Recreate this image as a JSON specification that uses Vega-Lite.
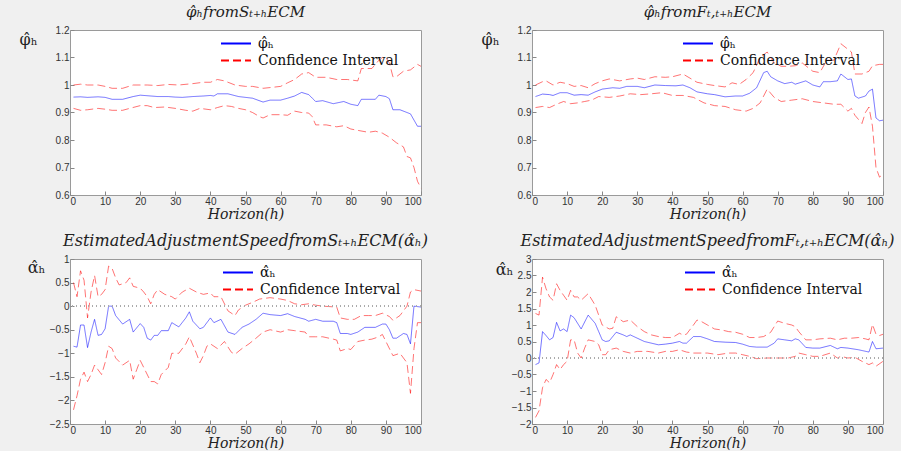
{
"$schema": "https://vega.github.io/schema/vega-lite/v6.json",
"background": "#f0f0f0",
"padding": {"left": 18, "top": 4, "right": 5, "bottom": 0},
"columns": 2,
"spacing": {"row": 64, "column": 111},
"bounds": "flush",
"resolve": {"scale": {"color": "independent", "strokeDash": "independent"}, "legend": {"color": "independent", "strokeDash": "independent"}},
"datasets": {
"p1": [
{"k":"e","h":1,"v":0.956},{"k":"e","h":3,"v":0.957},{"k":"e","h":5,"v":0.955},{"k":"e","h":8,"v":0.957},{"k":"e","h":10,"v":0.955},{"k":"e","h":12,"v":0.948},{"k":"e","h":15,"v":0.948},{"k":"e","h":18,"v":0.958},{"k":"e","h":20,"v":0.963},{"k":"e","h":23,"v":0.96},{"k":"e","h":25,"v":0.958},{"k":"e","h":28,"v":0.958},{"k":"e","h":30,"v":0.956},{"k":"e","h":32,"v":0.955},{"k":"e","h":35,"v":0.958},{"k":"e","h":38,"v":0.96},{"k":"e","h":40,"v":0.962},{"k":"e","h":41,"v":0.96},{"k":"e","h":42,"v":0.968},{"k":"e","h":45,"v":0.968},{"k":"e","h":48,"v":0.958},{"k":"e","h":50,"v":0.955},{"k":"e","h":52,"v":0.952},{"k":"e","h":55,"v":0.938},{"k":"e","h":57,"v":0.945},{"k":"e","h":60,"v":0.945},{"k":"e","h":62,"v":0.952},{"k":"e","h":64,"v":0.96},{"k":"e","h":66,"v":0.973},{"k":"e","h":68,"v":0.965},{"k":"e","h":70,"v":0.94},{"k":"e","h":72,"v":0.943},{"k":"e","h":75,"v":0.932},{"k":"e","h":78,"v":0.94},{"k":"e","h":80,"v":0.93},{"k":"e","h":82,"v":0.925},{"k":"e","h":83,"v":0.948},{"k":"e","h":87,"v":0.948},{"k":"e","h":88,"v":0.963},{"k":"e","h":90,"v":0.958},{"k":"e","h":91,"v":0.95},{"k":"e","h":92,"v":0.91},{"k":"e","h":94,"v":0.91},{"k":"e","h":96,"v":0.9},{"k":"e","h":97,"v":0.895},{"k":"e","h":99,"v":0.85},{"k":"e","h":100,"v":0.85},
{"k":"hi","h":1,"v":1.0},{"k":"hi","h":3,"v":1.003},{"k":"hi","h":5,"v":1.0},{"k":"hi","h":8,"v":1.0},{"k":"hi","h":10,"v":0.995},{"k":"hi","h":12,"v":0.988},{"k":"hi","h":15,"v":0.988},{"k":"hi","h":18,"v":1.0},{"k":"hi","h":20,"v":1.0},{"k":"hi","h":22,"v":1.0},{"k":"hi","h":25,"v":0.998},{"k":"hi","h":28,"v":1.002},{"k":"hi","h":31,"v":1.0},{"k":"hi","h":35,"v":1.005},{"k":"hi","h":38,"v":1.01},{"k":"hi","h":40,"v":1.01},{"k":"hi","h":42,"v":1.02},{"k":"hi","h":44,"v":1.015},{"k":"hi","h":47,"v":1.0},{"k":"hi","h":50,"v":0.995},{"k":"hi","h":52,"v":0.995},{"k":"hi","h":55,"v":0.988},{"k":"hi","h":58,"v":0.992},{"k":"hi","h":60,"v":0.995},{"k":"hi","h":62,"v":1.008},{"k":"hi","h":64,"v":1.02},{"k":"hi","h":66,"v":1.04},{"k":"hi","h":68,"v":1.045},{"k":"hi","h":70,"v":1.028},{"k":"hi","h":73,"v":1.028},{"k":"hi","h":76,"v":1.02},{"k":"hi","h":79,"v":1.02},{"k":"hi","h":82,"v":1.015},{"k":"hi","h":83,"v":1.06},{"k":"hi","h":86,"v":1.06},{"k":"hi","h":88,"v":1.09},{"k":"hi","h":89,"v":1.1},{"k":"hi","h":90,"v":1.1},{"k":"hi","h":91,"v":1.08},{"k":"hi","h":92,"v":1.03},{"k":"hi","h":93,"v":1.03},{"k":"hi","h":95,"v":1.05},{"k":"hi","h":97,"v":1.055},{"k":"hi","h":99,"v":1.075},{"k":"hi","h":100,"v":1.068},
{"k":"lo","h":1,"v":0.915},{"k":"lo","h":3,"v":0.908},{"k":"lo","h":5,"v":0.91},{"k":"lo","h":8,"v":0.915},{"k":"lo","h":10,"v":0.912},{"k":"lo","h":12,"v":0.908},{"k":"lo","h":15,"v":0.908},{"k":"lo","h":17,"v":0.915},{"k":"lo","h":20,"v":0.925},{"k":"lo","h":22,"v":0.925},{"k":"lo","h":24,"v":0.918},{"k":"lo","h":27,"v":0.92},{"k":"lo","h":30,"v":0.915},{"k":"lo","h":33,"v":0.908},{"k":"lo","h":35,"v":0.905},{"k":"lo","h":37,"v":0.915},{"k":"lo","h":40,"v":0.91},{"k":"lo","h":42,"v":0.918},{"k":"lo","h":44,"v":0.925},{"k":"lo","h":46,"v":0.922},{"k":"lo","h":48,"v":0.915},{"k":"lo","h":50,"v":0.91},{"k":"lo","h":52,"v":0.9},{"k":"lo","h":54,"v":0.885},{"k":"lo","h":55,"v":0.88},{"k":"lo","h":57,"v":0.892},{"k":"lo","h":60,"v":0.892},{"k":"lo","h":62,"v":0.89},{"k":"lo","h":64,"v":0.905},{"k":"lo","h":66,"v":0.9},{"k":"lo","h":68,"v":0.898},{"k":"lo","h":69,"v":0.885},{"k":"lo","h":70,"v":0.855},{"k":"lo","h":73,"v":0.855},{"k":"lo","h":76,"v":0.848},{"k":"lo","h":78,"v":0.852},{"k":"lo","h":80,"v":0.84},{"k":"lo","h":82,"v":0.835},{"k":"lo","h":85,"v":0.828},{"k":"lo","h":87,"v":0.832},{"k":"lo","h":89,"v":0.825},{"k":"lo","h":91,"v":0.81},{"k":"lo","h":93,"v":0.79},{"k":"lo","h":95,"v":0.775},{"k":"lo","h":96,"v":0.74},{"k":"lo","h":97,"v":0.735},{"k":"lo","h":98,"v":0.7},{"k":"lo","h":99,"v":0.65},{"k":"lo","h":100,"v":0.625}
],
"p2": [
{"k":"e","h":1,"v":0.958},{"k":"e","h":3,"v":0.967},{"k":"e","h":5,"v":0.965},{"k":"e","h":6,"v":0.962},{"k":"e","h":8,"v":0.972},{"k":"e","h":10,"v":0.972},{"k":"e","h":12,"v":0.963},{"k":"e","h":14,"v":0.965},{"k":"e","h":16,"v":0.963},{"k":"e","h":18,"v":0.975},{"k":"e","h":20,"v":0.985},{"k":"e","h":23,"v":0.99},{"k":"e","h":25,"v":0.988},{"k":"e","h":27,"v":0.995},{"k":"e","h":30,"v":0.995},{"k":"e","h":32,"v":0.99},{"k":"e","h":35,"v":1.0},{"k":"e","h":38,"v":0.998},{"k":"e","h":41,"v":0.997},{"k":"e","h":43,"v":1.0},{"k":"e","h":45,"v":0.99},{"k":"e","h":47,"v":0.975},{"k":"e","h":50,"v":0.968},{"k":"e","h":52,"v":0.965},{"k":"e","h":55,"v":0.957},{"k":"e","h":58,"v":0.96},{"k":"e","h":60,"v":0.96},{"k":"e","h":62,"v":0.97},{"k":"e","h":64,"v":0.99},{"k":"e","h":66,"v":1.045},{"k":"e","h":67,"v":1.05},{"k":"e","h":68,"v":1.03},{"k":"e","h":70,"v":1.015},{"k":"e","h":72,"v":1.005},{"k":"e","h":74,"v":1.01},{"k":"e","h":75,"v":1.003},{"k":"e","h":78,"v":1.015},{"k":"e","h":80,"v":1.0},{"k":"e","h":82,"v":0.993},{"k":"e","h":83,"v":1.012},{"k":"e","h":85,"v":1.012},{"k":"e","h":87,"v":1.015},{"k":"e","h":88,"v":1.04},{"k":"e","h":90,"v":1.02},{"k":"e","h":91,"v":1.022},{"k":"e","h":92,"v":0.96},{"k":"e","h":93,"v":0.952},{"k":"e","h":95,"v":0.96},{"k":"e","h":96,"v":0.978},{"k":"e","h":97,"v":0.985},{"k":"e","h":98,"v":0.88},{"k":"e","h":99,"v":0.87},{"k":"e","h":100,"v":0.872},
{"k":"hi","h":1,"v":1.0},{"k":"hi","h":3,"v":1.012},{"k":"hi","h":4,"v":1.015},{"k":"hi","h":6,"v":1.0},{"k":"hi","h":8,"v":1.01},{"k":"hi","h":10,"v":1.005},{"k":"hi","h":12,"v":0.995},{"k":"hi","h":14,"v":0.998},{"k":"hi","h":16,"v":0.99},{"k":"hi","h":18,"v":1.005},{"k":"hi","h":20,"v":1.015},{"k":"hi","h":22,"v":1.022},{"k":"hi","h":25,"v":1.015},{"k":"hi","h":28,"v":1.022},{"k":"hi","h":30,"v":1.025},{"k":"hi","h":32,"v":1.02},{"k":"hi","h":35,"v":1.03},{"k":"hi","h":38,"v":1.028},{"k":"hi","h":40,"v":1.03},{"k":"hi","h":43,"v":1.04},{"k":"hi","h":45,"v":1.025},{"k":"hi","h":47,"v":1.01},{"k":"hi","h":50,"v":1.002},{"k":"hi","h":52,"v":0.998},{"k":"hi","h":55,"v":0.993},{"k":"hi","h":57,"v":1.008},{"k":"hi","h":59,"v":1.002},{"k":"hi","h":61,"v":1.02},{"k":"hi","h":63,"v":1.045},{"k":"hi","h":65,"v":1.1},{"k":"hi","h":67,"v":1.12},{"k":"hi","h":69,"v":1.08},{"k":"hi","h":71,"v":1.068},{"k":"hi","h":73,"v":1.068},{"k":"hi","h":75,"v":1.07},{"k":"hi","h":77,"v":1.08},{"k":"hi","h":80,"v":1.05},{"k":"hi","h":82,"v":1.045},{"k":"hi","h":84,"v":1.09},{"k":"hi","h":86,"v":1.09},{"k":"hi","h":88,"v":1.15},{"k":"hi","h":90,"v":1.13},{"k":"hi","h":91,"v":1.12},{"k":"hi","h":92,"v":1.04},{"k":"hi","h":94,"v":1.04},{"k":"hi","h":96,"v":1.05},{"k":"hi","h":97,"v":1.07},{"k":"hi","h":99,"v":1.075},{"k":"hi","h":100,"v":1.075},
{"k":"lo","h":1,"v":0.918},{"k":"lo","h":3,"v":0.922},{"k":"lo","h":5,"v":0.918},{"k":"lo","h":7,"v":0.93},{"k":"lo","h":9,"v":0.94},{"k":"lo","h":11,"v":0.932},{"k":"lo","h":13,"v":0.935},{"k":"lo","h":15,"v":0.94},{"k":"lo","h":17,"v":0.945},{"k":"lo","h":19,"v":0.958},{"k":"lo","h":22,"v":0.955},{"k":"lo","h":25,"v":0.96},{"k":"lo","h":28,"v":0.968},{"k":"lo","h":31,"v":0.965},{"k":"lo","h":34,"v":0.968},{"k":"lo","h":37,"v":0.972},{"k":"lo","h":40,"v":0.962},{"k":"lo","h":43,"v":0.962},{"k":"lo","h":46,"v":0.955},{"k":"lo","h":49,"v":0.935},{"k":"lo","h":52,"v":0.925},{"k":"lo","h":55,"v":0.922},{"k":"lo","h":58,"v":0.91},{"k":"lo","h":61,"v":0.905},{"k":"lo","h":63,"v":0.915},{"k":"lo","h":65,"v":0.935},{"k":"lo","h":67,"v":0.985},{"k":"lo","h":69,"v":0.955},{"k":"lo","h":71,"v":0.94},{"k":"lo","h":74,"v":0.945},{"k":"lo","h":77,"v":0.95},{"k":"lo","h":80,"v":0.94},{"k":"lo","h":83,"v":0.935},{"k":"lo","h":86,"v":0.93},{"k":"lo","h":88,"v":0.93},{"k":"lo","h":90,"v":0.905},{"k":"lo","h":91,"v":0.915},{"k":"lo","h":92,"v":0.89},{"k":"lo","h":93,"v":0.875},{"k":"lo","h":94,"v":0.86},{"k":"lo","h":95,"v":0.9},{"k":"lo","h":96,"v":0.92},{"k":"lo","h":97,"v":0.85},{"k":"lo","h":98,"v":0.7},{"k":"lo","h":99,"v":0.665},{"k":"lo","h":100,"v":0.675}
],
"p3": [
{"k":"e","h":1,"v":-0.85},{"k":"e","h":2,"v":-0.87},{"k":"e","h":3,"v":-0.4},{"k":"e","h":4,"v":-0.4},{"k":"e","h":5,"v":-0.88},{"k":"e","h":6,"v":-0.55},{"k":"e","h":7,"v":-0.28},{"k":"e","h":8,"v":-0.62},{"k":"e","h":9,"v":-0.6},{"k":"e","h":10,"v":-0.48},{"k":"e","h":11,"v":0},{"k":"e","h":12,"v":0},{"k":"e","h":13,"v":-0.2},{"k":"e","h":15,"v":-0.38},{"k":"e","h":17,"v":-0.28},{"k":"e","h":18,"v":-0.55},{"k":"e","h":20,"v":-0.37},{"k":"e","h":21,"v":-0.45},{"k":"e","h":22,"v":-0.68},{"k":"e","h":23,"v":-0.72},{"k":"e","h":24,"v":-0.62},{"k":"e","h":25,"v":-0.62},{"k":"e","h":26,"v":-0.52},{"k":"e","h":28,"v":-0.52},{"k":"e","h":29,"v":-0.35},{"k":"e","h":31,"v":-0.44},{"k":"e","h":33,"v":-0.25},{"k":"e","h":34,"v":-0.12},{"k":"e","h":35,"v":-0.32},{"k":"e","h":37,"v":-0.48},{"k":"e","h":38,"v":-0.45},{"k":"e","h":40,"v":-0.25},{"k":"e","h":41,"v":-0.35},{"k":"e","h":43,"v":-0.28},{"k":"e","h":45,"v":-0.55},{"k":"e","h":47,"v":-0.6},{"k":"e","h":49,"v":-0.45},{"k":"e","h":51,"v":-0.38},{"k":"e","h":53,"v":-0.28},{"k":"e","h":55,"v":-0.15},{"k":"e","h":57,"v":-0.18},{"k":"e","h":60,"v":-0.2},{"k":"e","h":62,"v":-0.16},{"k":"e","h":64,"v":-0.22},{"k":"e","h":67,"v":-0.28},{"k":"e","h":68,"v":-0.32},{"k":"e","h":70,"v":-0.28},{"k":"e","h":72,"v":-0.32},{"k":"e","h":75,"v":-0.32},{"k":"e","h":76,"v":-0.35},{"k":"e","h":77,"v":-0.58},{"k":"e","h":79,"v":-0.58},{"k":"e","h":80,"v":-0.6},{"k":"e","h":82,"v":-0.55},{"k":"e","h":84,"v":-0.45},{"k":"e","h":87,"v":-0.45},{"k":"e","h":89,"v":-0.38},{"k":"e","h":90,"v":-0.38},{"k":"e","h":91,"v":-0.5},{"k":"e","h":92,"v":-0.68},{"k":"e","h":93,"v":-0.68},{"k":"e","h":95,"v":-0.58},{"k":"e","h":96,"v":-0.6},{"k":"e","h":97,"v":-0.8},{"k":"e","h":98,"v":0},{"k":"e","h":100,"v":-0.02},
{"k":"hi","h":1,"v":0.5},{"k":"hi","h":2,"v":0.2},{"k":"hi","h":3,"v":0.75},{"k":"hi","h":4,"v":0.55},{"k":"hi","h":5,"v":-0.25},{"k":"hi","h":6,"v":0.3},{"k":"hi","h":7,"v":0.65},{"k":"hi","h":8,"v":0.2},{"k":"hi","h":9,"v":0.25},{"k":"hi","h":10,"v":0.35},{"k":"hi","h":11,"v":0.85},{"k":"hi","h":12,"v":0.8},{"k":"hi","h":13,"v":0.6},{"k":"hi","h":14,"v":0.45},{"k":"hi","h":16,"v":0.5},{"k":"hi","h":17,"v":0.6},{"k":"hi","h":18,"v":0.42},{"k":"hi","h":20,"v":0.38},{"k":"hi","h":21,"v":0.3},{"k":"hi","h":22,"v":0.2},{"k":"hi","h":23,"v":0.05},{"k":"hi","h":24,"v":0.25},{"k":"hi","h":25,"v":0.35},{"k":"hi","h":27,"v":0.25},{"k":"hi","h":29,"v":0.2},{"k":"hi","h":30,"v":0.15},{"k":"hi","h":32,"v":0.3},{"k":"hi","h":34,"v":0.38},{"k":"hi","h":36,"v":0.3},{"k":"hi","h":38,"v":0.25},{"k":"hi","h":40,"v":0.28},{"k":"hi","h":41,"v":0.2},{"k":"hi","h":43,"v":0.2},{"k":"hi","h":45,"v":-0.1},{"k":"hi","h":47,"v":-0.2},{"k":"hi","h":48,"v":-0.08},{"k":"hi","h":50,"v":0.02},{"k":"hi","h":52,"v":0.08},{"k":"hi","h":54,"v":0.15},{"k":"hi","h":57,"v":0.18},{"k":"hi","h":60,"v":0.15},{"k":"hi","h":62,"v":0.12},{"k":"hi","h":64,"v":0.05},{"k":"hi","h":66,"v":0.03},{"k":"hi","h":68,"v":0.05},{"k":"hi","h":70,"v":0.02},{"k":"hi","h":72,"v":0},{"k":"hi","h":76,"v":-0.02},{"k":"hi","h":77,"v":-0.25},{"k":"hi","h":79,"v":-0.28},{"k":"hi","h":81,"v":-0.28},{"k":"hi","h":83,"v":-0.2},{"k":"hi","h":85,"v":-0.2},{"k":"hi","h":87,"v":-0.2},{"k":"hi","h":89,"v":-0.15},{"k":"hi","h":91,"v":-0.22},{"k":"hi","h":92,"v":-0.3},{"k":"hi","h":94,"v":-0.2},{"k":"hi","h":96,"v":0},{"k":"hi","h":97,"v":0.3},{"k":"hi","h":98,"v":0.35},{"k":"hi","h":100,"v":0.32},
{"k":"lo","h":1,"v":-2.2},{"k":"lo","h":2,"v":-1.9},{"k":"lo","h":3,"v":-1.55},{"k":"lo","h":4,"v":-1.4},{"k":"lo","h":5,"v":-1.6},{"k":"lo","h":6,"v":-1.45},{"k":"lo","h":7,"v":-1.25},{"k":"lo","h":8,"v":-1.35},{"k":"lo","h":9,"v":-1.45},{"k":"lo","h":10,"v":-1.2},{"k":"lo","h":11,"v":-0.85},{"k":"lo","h":12,"v":-0.9},{"k":"lo","h":13,"v":-1.1},{"k":"lo","h":15,"v":-1.25},{"k":"lo","h":17,"v":-1.15},{"k":"lo","h":18,"v":-1.55},{"k":"lo","h":19,"v":-1.35},{"k":"lo","h":20,"v":-1.15},{"k":"lo","h":21,"v":-1.3},{"k":"lo","h":23,"v":-1.6},{"k":"lo","h":24,"v":-1.6},{"k":"lo","h":25,"v":-1.65},{"k":"lo","h":26,"v":-1.45},{"k":"lo","h":28,"v":-1.3},{"k":"lo","h":29,"v":-1.0},{"k":"lo","h":31,"v":-1.0},{"k":"lo","h":33,"v":-0.8},{"k":"lo","h":34,"v":-0.65},{"k":"lo","h":36,"v":-1.0},{"k":"lo","h":37,"v":-1.2},{"k":"lo","h":38,"v":-1.05},{"k":"lo","h":39,"v":-0.85},{"k":"lo","h":40,"v":-0.8},{"k":"lo","h":42,"v":-0.9},{"k":"lo","h":44,"v":-0.75},{"k":"lo","h":46,"v":-0.98},{"k":"lo","h":47,"v":-1.02},{"k":"lo","h":49,"v":-0.9},{"k":"lo","h":51,"v":-0.8},{"k":"lo","h":53,"v":-0.68},{"k":"lo","h":55,"v":-0.55},{"k":"lo","h":57,"v":-0.5},{"k":"lo","h":60,"v":-0.55},{"k":"lo","h":62,"v":-0.5},{"k":"lo","h":64,"v":-0.52},{"k":"lo","h":67,"v":-0.55},{"k":"lo","h":68,"v":-0.65},{"k":"lo","h":70,"v":-0.65},{"k":"lo","h":72,"v":-0.65},{"k":"lo","h":75,"v":-0.7},{"k":"lo","h":76,"v":-0.72},{"k":"lo","h":77,"v":-0.95},{"k":"lo","h":79,"v":-0.9},{"k":"lo","h":80,"v":-0.92},{"k":"lo","h":82,"v":-0.75},{"k":"lo","h":84,"v":-0.72},{"k":"lo","h":86,"v":-0.7},{"k":"lo","h":88,"v":-0.65},{"k":"lo","h":89,"v":-0.6},{"k":"lo","h":90,"v":-0.75},{"k":"lo","h":92,"v":-1.05},{"k":"lo","h":94,"v":-1.0},{"k":"lo","h":95,"v":-1.1},{"k":"lo","h":96,"v":-1.2},{"k":"lo","h":97,"v":-1.85},{"k":"lo","h":98,"v":-0.9},{"k":"lo","h":99,"v":-0.35},{"k":"lo","h":100,"v":-0.35}
],
"p4": [
{"k":"e","h":1,"v":-0.2},{"k":"e","h":2,"v":-0.15},{"k":"e","h":3,"v":0.8},{"k":"e","h":4,"v":0.68},{"k":"e","h":5,"v":0.55},{"k":"e","h":6,"v":0.62},{"k":"e","h":7,"v":1.08},{"k":"e","h":8,"v":0.82},{"k":"e","h":9,"v":0.88},{"k":"e","h":10,"v":0.8},{"k":"e","h":11,"v":1.3},{"k":"e","h":12,"v":1.22},{"k":"e","h":14,"v":0.88},{"k":"e","h":16,"v":1.3},{"k":"e","h":18,"v":1.05},{"k":"e","h":19,"v":0.8},{"k":"e","h":20,"v":0.55},{"k":"e","h":21,"v":0.5},{"k":"e","h":22,"v":0.52},{"k":"e","h":24,"v":0.78},{"k":"e","h":26,"v":0.7},{"k":"e","h":27,"v":0.65},{"k":"e","h":28,"v":0.7},{"k":"e","h":30,"v":0.6},{"k":"e","h":32,"v":0.5},{"k":"e","h":34,"v":0.45},{"k":"e","h":36,"v":0.4},{"k":"e","h":38,"v":0.42},{"k":"e","h":40,"v":0.45},{"k":"e","h":42,"v":0.5},{"k":"e","h":43,"v":0.45},{"k":"e","h":44,"v":0.45},{"k":"e","h":46,"v":0.65},{"k":"e","h":48,"v":0.65},{"k":"e","h":50,"v":0.58},{"k":"e","h":52,"v":0.5},{"k":"e","h":55,"v":0.48},{"k":"e","h":58,"v":0.47},{"k":"e","h":60,"v":0.42},{"k":"e","h":62,"v":0.35},{"k":"e","h":64,"v":0.33},{"k":"e","h":67,"v":0.33},{"k":"e","h":69,"v":0.45},{"k":"e","h":70,"v":0.58},{"k":"e","h":72,"v":0.55},{"k":"e","h":74,"v":0.52},{"k":"e","h":75,"v":0.58},{"k":"e","h":76,"v":0.55},{"k":"e","h":78,"v":0.32},{"k":"e","h":80,"v":0.3},{"k":"e","h":82,"v":0.3},{"k":"e","h":85,"v":0.38},{"k":"e","h":87,"v":0.28},{"k":"e","h":88,"v":0.32},{"k":"e","h":90,"v":0.3},{"k":"e","h":93,"v":0.25},{"k":"e","h":96,"v":0.18},{"k":"e","h":97,"v":0.5},{"k":"e","h":98,"v":0.28},{"k":"e","h":100,"v":0.3},
{"k":"hi","h":1,"v":1.35},{"k":"hi","h":2,"v":1.3},{"k":"hi","h":3,"v":2.45},{"k":"hi","h":4,"v":2.1},{"k":"hi","h":5,"v":1.85},{"k":"hi","h":6,"v":1.75},{"k":"hi","h":7,"v":2.25},{"k":"hi","h":8,"v":2.05},{"k":"hi","h":9,"v":1.9},{"k":"hi","h":10,"v":1.75},{"k":"hi","h":11,"v":2.05},{"k":"hi","h":12,"v":1.85},{"k":"hi","h":13,"v":1.85},{"k":"hi","h":14,"v":1.75},{"k":"hi","h":16,"v":1.95},{"k":"hi","h":18,"v":1.6},{"k":"hi","h":19,"v":1.3},{"k":"hi","h":20,"v":1.0},{"k":"hi","h":22,"v":0.88},{"k":"hi","h":23,"v":0.9},{"k":"hi","h":24,"v":1.25},{"k":"hi","h":26,"v":1.1},{"k":"hi","h":28,"v":1.15},{"k":"hi","h":30,"v":0.95},{"k":"hi","h":32,"v":0.8},{"k":"hi","h":34,"v":0.7},{"k":"hi","h":36,"v":0.65},{"k":"hi","h":38,"v":0.62},{"k":"hi","h":40,"v":0.62},{"k":"hi","h":42,"v":0.75},{"k":"hi","h":43,"v":0.7},{"k":"hi","h":44,"v":0.72},{"k":"hi","h":46,"v":1.0},{"k":"hi","h":47,"v":1.15},{"k":"hi","h":48,"v":1.12},{"k":"hi","h":50,"v":1.0},{"k":"hi","h":52,"v":0.88},{"k":"hi","h":54,"v":0.85},{"k":"hi","h":56,"v":0.8},{"k":"hi","h":58,"v":0.78},{"k":"hi","h":60,"v":0.72},{"k":"hi","h":62,"v":0.62},{"k":"hi","h":64,"v":0.62},{"k":"hi","h":66,"v":0.65},{"k":"hi","h":68,"v":0.78},{"k":"hi","h":70,"v":1.12},{"k":"hi","h":72,"v":1.05},{"k":"hi","h":74,"v":1.0},{"k":"hi","h":75,"v":0.95},{"k":"hi","h":76,"v":0.8},{"k":"hi","h":78,"v":0.55},{"k":"hi","h":80,"v":0.55},{"k":"hi","h":82,"v":0.58},{"k":"hi","h":85,"v":0.6},{"k":"hi","h":87,"v":0.55},{"k":"hi","h":89,"v":0.6},{"k":"hi","h":91,"v":0.6},{"k":"hi","h":93,"v":0.62},{"k":"hi","h":95,"v":0.58},{"k":"hi","h":96,"v":0.55},{"k":"hi","h":97,"v":1.02},{"k":"hi","h":98,"v":0.72},{"k":"hi","h":99,"v":0.68},{"k":"hi","h":100,"v":0.72},
{"k":"lo","h":1,"v":-1.8},{"k":"lo","h":2,"v":-1.6},{"k":"lo","h":3,"v":-0.9},{"k":"lo","h":4,"v":-0.65},{"k":"lo","h":5,"v":-0.75},{"k":"lo","h":6,"v":-0.5},{"k":"lo","h":7,"v":-0.2},{"k":"lo","h":8,"v":-0.35},{"k":"lo","h":9,"v":-0.2},{"k":"lo","h":10,"v":-0.1},{"k":"lo","h":11,"v":0.55},{"k":"lo","h":12,"v":0.55},{"k":"lo","h":13,"v":0.15},{"k":"lo","h":14,"v":0},{"k":"lo","h":15,"v":0.3},{"k":"lo","h":16,"v":0.55},{"k":"lo","h":18,"v":0.5},{"k":"lo","h":19,"v":0.4},{"k":"lo","h":20,"v":0.1},{"k":"lo","h":21,"v":0.1},{"k":"lo","h":22,"v":0.25},{"k":"lo","h":24,"v":0.3},{"k":"lo","h":26,"v":0.2},{"k":"lo","h":28,"v":0.15},{"k":"lo","h":30,"v":0.2},{"k":"lo","h":33,"v":0.2},{"k":"lo","h":36,"v":0.15},{"k":"lo","h":38,"v":0.2},{"k":"lo","h":40,"v":0.2},{"k":"lo","h":42,"v":0.25},{"k":"lo","h":44,"v":0.18},{"k":"lo","h":46,"v":0.15},{"k":"lo","h":50,"v":0.15},{"k":"lo","h":53,"v":0.1},{"k":"lo","h":56,"v":0.15},{"k":"lo","h":58,"v":0.15},{"k":"lo","h":60,"v":0.1},{"k":"lo","h":62,"v":0.05},{"k":"lo","h":64,"v":-0.02},{"k":"lo","h":67,"v":0},{"k":"lo","h":70,"v":0},{"k":"lo","h":73,"v":0},{"k":"lo","h":75,"v":0.05},{"k":"lo","h":76,"v":0.15},{"k":"lo","h":78,"v":0.1},{"k":"lo","h":80,"v":0.05},{"k":"lo","h":82,"v":0.05},{"k":"lo","h":85,"v":0.15},{"k":"lo","h":87,"v":0},{"k":"lo","h":88,"v":0.05},{"k":"lo","h":90,"v":0},{"k":"lo","h":92,"v":0.02},{"k":"lo","h":94,"v":-0.1},{"k":"lo","h":96,"v":-0.2},{"k":"lo","h":97,"v":-0.15},{"k":"lo","h":98,"v":-0.25},{"k":"lo","h":100,"v":-0.1}
]
},
"concat": [
{
"width": 351, "height": 165,
"title": {"text": "φ̂ₕfromSₜ₊ₕECM", "fontSize": 15},
"data": {"name": "p1"},
"mark": {"type": "line", "strokeWidth": 1, "opacity": 0.55},
"encoding": {
"x": {"field": "h", "type": "quantitative", "scale": {"domain": [0, 100], "nice": false}, "axis": {"values": [0,10,20,30,40,50,60,70,80,90,100], "title": "Horizon(h)"}},
"y": {"field": "v", "type": "quantitative", "scale": {"domain": [0.6, 1.2], "nice": false, "zero": false}, "axis": {"values": [0.6,0.7,0.8,0.9,1,1.1,1.2], "format": ".1~f", "labelOverlap": false, "title": "φ̂ₕ", "titleX": -42, "titleY": 9}},
"color": {"field": "k", "type": "nominal", "scale": {"domain": ["e","hi","lo"], "range": ["#0000ff","#ff0000","#ff0000"]}, "legend": {"values": ["e","hi"], "labelExpr": "datum.value == 'e' ? 'φ̂ₕ' : 'Confidence Interval'", "title": null, "legendX": 150, "legendY": 5, "clipHeight": 17, "rowPadding": 0}},
"strokeDash": {"field": "k", "type": "nominal", "scale": {"domain": ["e","hi","lo"], "range": [[1,0],[8,4],[8,4]]}, "legend": {"values": ["e","hi"], "labelExpr": "datum.value == 'e' ? 'φ̂ₕ' : 'Confidence Interval'", "title": null, "legendX": 150, "legendY": 5, "clipHeight": 17, "rowPadding": 0}}
}
},
{
"width": 351, "height": 165,
"title": {"text": "φ̂ₕfromFₜ,ₜ₊ₕECM", "fontSize": 15},
"data": {"name": "p2"},
"mark": {"type": "line", "strokeWidth": 1, "opacity": 0.55},
"encoding": {
"x": {"field": "h", "type": "quantitative", "scale": {"domain": [0, 100], "nice": false}, "axis": {"values": [0,10,20,30,40,50,60,70,80,90,100], "title": "Horizon(h)"}},
"y": {"field": "v", "type": "quantitative", "scale": {"domain": [0.6, 1.2], "nice": false, "zero": false}, "axis": {"values": [0.6,0.7,0.8,0.9,1,1.1,1.2], "format": ".1~f", "labelOverlap": false, "title": "φ̂ₕ", "titleX": -42, "titleY": 9}},
"color": {"field": "k", "type": "nominal", "scale": {"domain": ["e","hi","lo"], "range": ["#0000ff","#ff0000","#ff0000"]}, "legend": {"values": ["e","hi"], "labelExpr": "datum.value == 'e' ? 'φ̂ₕ' : 'Confidence Interval'", "title": null, "legendX": 150, "legendY": 5, "clipHeight": 17, "rowPadding": 0}},
"strokeDash": {"field": "k", "type": "nominal", "scale": {"domain": ["e","hi","lo"], "range": [[1,0],[8,4],[8,4]]}, "legend": {"values": ["e","hi"], "labelExpr": "datum.value == 'e' ? 'φ̂ₕ' : 'Confidence Interval'", "title": null, "legendX": 150, "legendY": 5, "clipHeight": 17, "rowPadding": 0}}
}
},
{
"width": 351, "height": 165,
"title": {"text": "EstimatedAdjustmentSpeedfromSₜ₊ₕECM(α̂ₕ)", "fontSize": 16},
"data": {"name": "p3"},
"layer": [
{"mark": {"type": "line", "strokeWidth": 1, "opacity": 0.55},
"encoding": {
"x": {"field": "h", "type": "quantitative", "scale": {"domain": [0, 100], "nice": false}, "axis": {"values": [0,10,20,30,40,50,60,70,80,90,100], "title": "Horizon(h)"}},
"y": {"field": "v", "type": "quantitative", "scale": {"domain": [-2.5, 1], "nice": false, "zero": false}, "axis": {"values": [-2.5,-2,-1.5,-1,-0.5,0,0.5,1], "format": ".1~f", "labelOverlap": false, "title": "α̂ₕ", "titleX": -34, "titleY": 8}},
"color": {"field": "k", "type": "nominal", "scale": {"domain": ["e","hi","lo"], "range": ["#0000ff","#ff0000","#ff0000"]}, "legend": {"values": ["e","hi"], "labelExpr": "datum.value == 'e' ? 'α̂ₕ' : 'Confidence Interval'", "title": null, "legendX": 152, "legendY": 5, "clipHeight": 17, "rowPadding": 0}},
"strokeDash": {"field": "k", "type": "nominal", "scale": {"domain": ["e","hi","lo"], "range": [[1,0],[8,4],[8,4]]}, "legend": {"values": ["e","hi"], "labelExpr": "datum.value == 'e' ? 'α̂ₕ' : 'Confidence Interval'", "title": null, "legendX": 152, "legendY": 5, "clipHeight": 17, "rowPadding": 0}}
}},
{"mark": {"type": "rule", "color": "#aaaaaa", "strokeDash": [1, 3], "strokeWidth": 1}, "encoding": {"y": {"datum": 0, "type": "quantitative", "axis": {"values": [-2.5,-2,-1.5,-1,-0.5,0,0.5,1], "format": ".1~f", "labelOverlap": false, "title": "α̂ₕ", "titleX": -34, "titleY": 8}}}}
]
},
{
"width": 351, "height": 165,
"title": {"text": "EstimatedAdjustmentSpeedfromFₜ,ₜ₊ₕECM(α̂ₕ)", "fontSize": 16},
"data": {"name": "p4"},
"layer": [
{"mark": {"type": "line", "strokeWidth": 1, "opacity": 0.55},
"encoding": {
"x": {"field": "h", "type": "quantitative", "scale": {"domain": [0, 100], "nice": false}, "axis": {"values": [0,10,20,30,40,50,60,70,80,90,100], "title": "Horizon(h)"}},
"y": {"field": "v", "type": "quantitative", "scale": {"domain": [-2, 3], "nice": false, "zero": false}, "axis": {"values": [-2,-1.5,-1,-0.5,0,0.5,1,1.5,2,2.5,3], "format": ".1~f", "labelOverlap": false, "title": "α̂ₕ", "titleX": -28, "titleY": 10}},
"color": {"field": "k", "type": "nominal", "scale": {"domain": ["e","hi","lo"], "range": ["#0000ff","#ff0000","#ff0000"]}, "legend": {"values": ["e","hi"], "labelExpr": "datum.value == 'e' ? 'α̂ₕ' : 'Confidence Interval'", "title": null, "legendX": 152, "legendY": 5, "clipHeight": 17, "rowPadding": 0}},
"strokeDash": {"field": "k", "type": "nominal", "scale": {"domain": ["e","hi","lo"], "range": [[1,0],[8,4],[8,4]]}, "legend": {"values": ["e","hi"], "labelExpr": "datum.value == 'e' ? 'α̂ₕ' : 'Confidence Interval'", "title": null, "legendX": 152, "legendY": 5, "clipHeight": 17, "rowPadding": 0}}
}},
{"mark": {"type": "rule", "color": "#aaaaaa", "strokeDash": [1, 3], "strokeWidth": 1}, "encoding": {"y": {"datum": 0, "type": "quantitative", "axis": {"values": [-2,-1.5,-1,-0.5,0,0.5,1,1.5,2,2.5,3], "format": ".1~f", "labelOverlap": false, "title": "α̂ₕ", "titleX": -28, "titleY": 10}}}}
]
}
],
"config": {
"view": {"fill": "white", "stroke": "#9a9a9a", "strokeWidth": 1},
"title": {"font": "DejaVu Serif", "fontStyle": "italic", "fontWeight": "normal", "fontSize": 15, "color": "#222222", "offset": 5, "anchor": "middle"},
"axis": {"grid": false, "domain": false, "labelFont": "Liberation Sans", "labelFontSize": 10, "labelColor": "#333333", "tickColor": "#888888", "tickSize": -4, "labelPadding": 5, "labelOverlap": false},
"axisX": {"titleFont": "DejaVu Serif", "titleFontStyle": "italic", "titleFontWeight": "normal", "titleFontSize": 14, "titleColor": "#222222", "titlePadding": 1},
"axisY": {"titleFont": "DejaVu Serif", "titleFontStyle": "normal", "titleFontWeight": "normal", "titleFontSize": 16, "titleColor": "#222222", "titleAngle": 0, "titleAlign": "center", "titleBaseline": "middle"},
"legend": {"orient": "none", "padding": 0, "symbolType": "stroke", "symbolSize": 900, "symbolStrokeWidth": 2, "symbolOpacity": 1, "labelFont": "DejaVu Serif", "labelFontSize": 14, "labelColor": "#111111", "labelOffset": 6}
}
}
